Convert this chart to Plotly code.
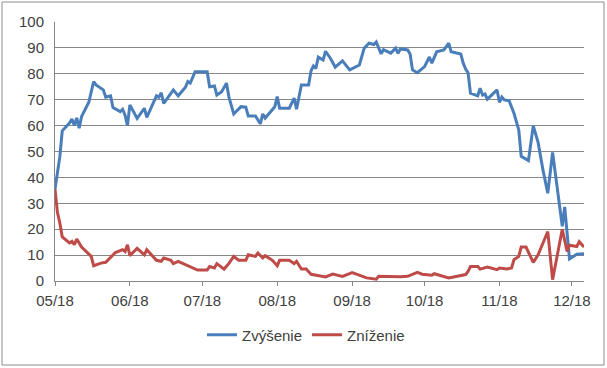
import datetime as dt
import plotly.graph_objects as go

start = dt.date(2018, 5, 1)

blue_days = [0, 2, 3, 6, 7, 8, 9, 10, 11, 14, 16, 17, 20, 21, 23, 24, 27, 28, 29, 30,
             31, 34, 37, 38, 42, 43, 44, 45, 49, 51, 54, 55, 56, 58, 63, 64, 66, 67, 69, 71,
             72, 74, 77, 79, 80, 83, 85, 86, 87, 91, 92, 93, 97, 99, 100, 102, 105, 106, 107, 108,
             109, 110, 111, 112, 114, 116, 119, 122, 126, 128, 130, 132, 133, 135, 136, 139, 141, 142, 143, 146,
             147, 148, 150, 153, 155, 156, 158, 161, 163, 164, 168, 169, 170, 171, 172, 175, 176, 177, 178, 179,
             183, 184, 185, 186, 188, 190, 192, 193, 196, 198, 200, 202, 204, 206, 210, 211, 213, 216, 219]
zvysenie = [35.5, 48, 58, 61, 62.5, 60, 63, 59, 63.5, 69, 77, 75.7, 73.8, 71, 71.5, 67, 65.4, 66.3, 64, 60,
            68, 62.8, 66.7, 63.2, 71.5, 71, 72.7, 68.6, 73.8, 71.5, 74.8, 77, 76.4, 80.8, 80.8, 75, 75.3, 71.8, 73.1, 76.4,
            71, 64.5, 67.3, 67.1, 63.7, 63.7, 60.7, 64.5, 62.9, 67.3, 71.2, 66.7, 66.7, 70.6, 66.3, 75.7, 75.7, 81.2, 83, 82.1,
            86.4, 86, 85.3, 88.7, 86, 82.6, 85, 81.5, 83.4, 89.9, 91.8, 91.3, 92.3, 87.7, 89.3, 88, 89.9, 87.9, 89.6, 89.2,
            87.6, 81.5, 80.4, 82.8, 86.5, 84.1, 88.5, 89.2, 91.8, 88.5, 87.6, 84.1, 81.8, 80.4, 72.5, 71.5, 74.4, 71.8, 72.2, 70.2,
            73.8, 69, 71, 69.9, 69.6, 64.8, 58.3, 48.1, 46.5, 59.9, 53.5, 42.9, 33.9, 49.6, 21.1, 28.6, 8.5, 10.3, 10.5]

red_days = [0, 1, 2, 3, 6, 7, 8, 9, 11, 14, 15, 16, 19, 21, 22, 23, 25, 28, 29, 30,
            31, 34, 37, 38, 42, 44, 45, 48, 49, 51, 54, 56, 59, 63, 64, 66, 67, 70, 72, 74,
            76, 79, 80, 83, 84, 86, 87, 90, 92, 93, 97, 99, 100, 102, 104, 106, 108, 110, 112, 115,
            119, 123, 126, 129, 133, 134, 143, 146, 150, 152, 156, 157, 163, 168, 170, 171, 172, 175, 176, 179,
            183, 184, 187, 189, 190, 192, 193, 195, 198, 200, 204, 206, 210, 212, 213, 216, 217, 219]
znizenie = [35.5, 26.5, 22.4, 17, 14.7, 15.3, 14, 16.2, 13.1, 10.5, 9.5, 5.9, 6.9, 7.2, 8.2, 8.9, 11, 12.1, 11.4, 14,
            9.8, 12.6, 10.1, 12.1, 8, 7.6, 8.9, 8, 6.7, 7.6, 6.3, 5.6, 4.2, 4.2, 5.6, 5, 6.7, 4.6, 6.8, 9.5,
            8, 8, 10.1, 9.5, 10.8, 8.9, 9.8, 8, 5.9, 8, 8, 6.7, 7.6, 4.6, 4.6, 2.6, 2.3, 1.8, 1.6, 2.7,
            1.8, 3.2, 2.3, 1.2, 0.7, 1.8, 1.6, 1.8, 3.3, 2.6, 2.2, 2.8, 1.2, 2.2, 2.5, 3.7, 5.6, 5.6, 4.6, 5.4,
            4.4, 5, 4.6, 5, 8.2, 9.5, 13.1, 13.1, 7.2, 10.1, 19.1, 0.5, 20, 11.4, 13.8, 13.3, 15.2, 13.1]

blue_dates = [start + dt.timedelta(days=d) for d in blue_days]
red_dates = [start + dt.timedelta(days=d) for d in red_days]

font_family = "Liberation Sans, Arial, sans-serif"
text_color = "#404040"
grid_color = "#878787"

fig = go.Figure()
fig.add_trace(go.Scatter(x=blue_dates, y=zvysenie, mode="lines", name="Zvýšenie",
                         line=dict(color="#4A7EBB", width=3)))
fig.add_trace(go.Scatter(x=red_dates, y=znizenie, mode="lines", name="Zníženie",
                         line=dict(color="#BE4B48", width=3)))

W, H = 607, 368
ml, mr, mt, mb = 55, 23, 22, 87
pw, ph = W - ml - mr, H - mt - mb

def px_x(p):
    return (p - ml) / pw

def px_y(p):
    return (H - mb - p) / ph

fig.update_layout(
    width=W, height=H,
    margin=dict(l=ml, r=mr, t=mt, b=mb),
    paper_bgcolor="white", plot_bgcolor="white",
    font=dict(family=font_family, size=15, color=text_color),
    showlegend=True,
    legend=dict(orientation="h", x=px_x(306), xanchor="center", y=px_y(335), yanchor="middle",
                itemwidth=30, font=dict(size=15, color=text_color), bgcolor="rgba(0,0,0,0)"),
    xaxis=dict(
        type="date",
        range=[start, start + dt.timedelta(days=219)],
        tickformat="%m/%y", dtick="M1", tick0="2018-05-01",
        showgrid=False, showline=True, linecolor=grid_color, linewidth=1,
        ticks="outside", ticklen=4, tickcolor=grid_color,
        ticklabelstandoff=2, zeroline=False,
    ),
    yaxis=dict(
        range=[0, 100], dtick=10, tick0=0,
        showgrid=True, gridcolor=grid_color, gridwidth=1,
        showline=True, linecolor=grid_color, linewidth=1,
        ticks="", ticklabelstandoff=7, zeroline=False,
    ),
    shapes=[dict(type="rect", xref="paper", yref="paper",
                 x0=px_x(2), x1=px_x(604), y0=px_y(365), y1=px_y(2),
                 line=dict(color="#8c8c8c", width=1), fillcolor="rgba(0,0,0,0)", layer="below")],
)

fig.write_html("out.html", config={"displayModeBar": False},
               post_script="document.body.style.margin='0';document.body.style.overflow='hidden';")
